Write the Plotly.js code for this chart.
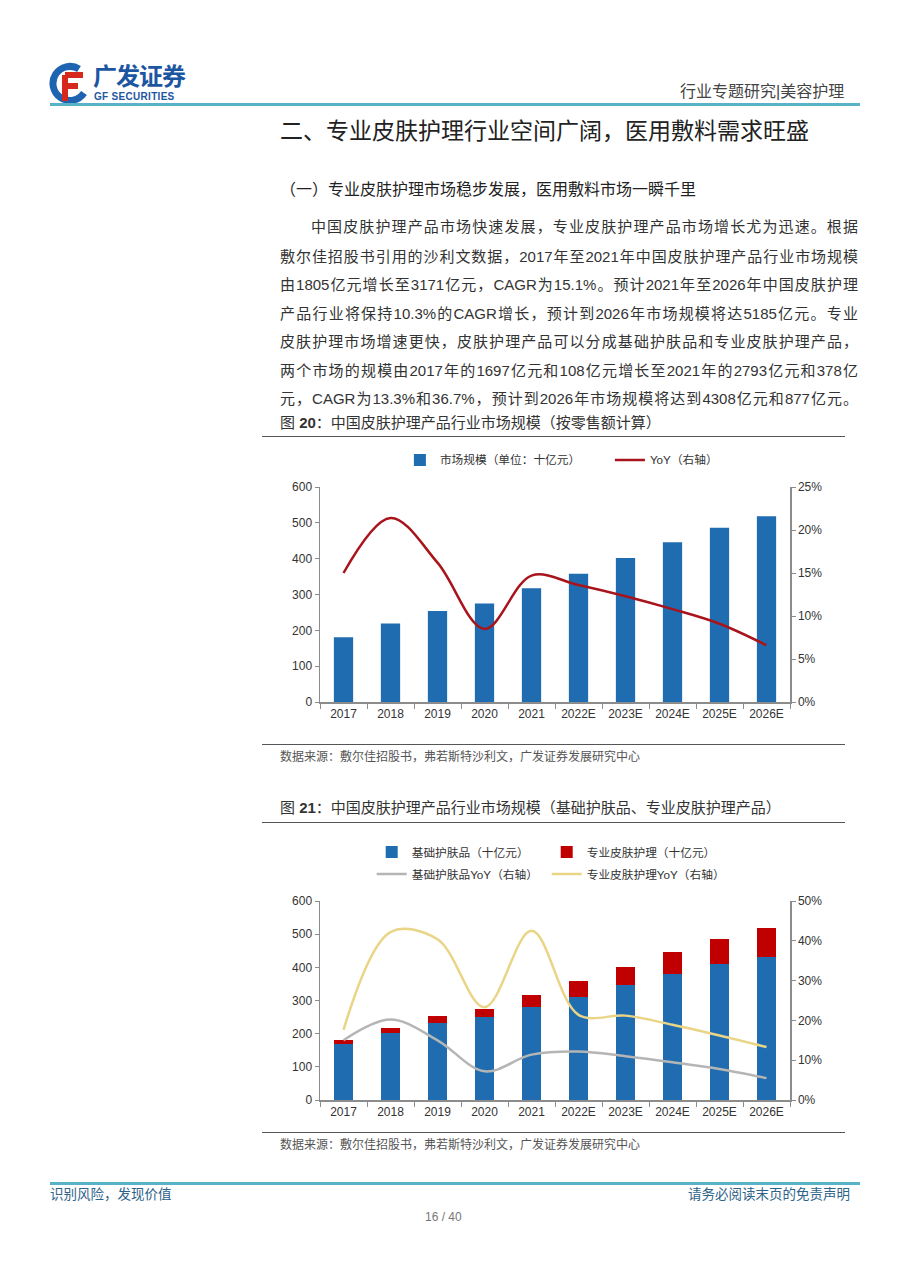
<!DOCTYPE html>
<html>
<head>
<meta charset="utf-8">
<script src="https://cdn.plot.ly/plotly-3.0.1.min.js"></script>
<style>
body{margin:0;background:#fff;width:905px;height:1280px;position:relative;overflow:hidden;
  font-family:"Liberation Sans","Noto Sans CJK SC",sans-serif;color:#333}
.t{position:absolute;white-space:nowrap}
.rule{position:absolute;height:0}
.line{position:absolute;left:280px;width:578px;font-size:15px;line-height:20px;
  text-align:justify;text-align-last:justify;white-space:nowrap;color:#333}
</style>
</head>
<body>

<!-- header -->
<svg class="t" style="left:48px;top:62px" width="44" height="42" viewBox="0 0 44 42">
  <path d="M31 7 A17 17 0 1 0 36 31" fill="none" stroke="#1f64b0" stroke-width="7"/>
  <path d="M17 13 H35 M17 13 V39 M17 24 H30" stroke="#d7281d" stroke-width="6" fill="none"/>
</svg>
<div class="t" style="left:93px;top:63px;font-size:24px;line-height:28px;font-weight:bold;color:#1d56a0;letter-spacing:-1px">广发证券</div>
<div class="t" style="left:94px;top:91px;font-size:10px;line-height:12px;font-weight:bold;color:#1d56a0;letter-spacing:0.3px">GF SECURITIES</div>
<div class="t" style="left:680px;top:81px;font-size:16px;line-height:22px;color:#444">行业专题研究|美容护理</div>
<div class="rule" style="left:50px;top:103px;width:810px;border-top:3px solid #5ab2c8"></div>

<!-- headings and text -->
<div class="t" style="left:280px;top:116px;font-size:23px;line-height:30px;color:#222">二、专业皮肤护理行业空间广阔，医用敷料需求旺盛</div>
<div class="t" style="left:280px;top:179px;font-size:16px;line-height:22px;color:#222">（一）专业皮肤护理市场稳步发展，医用敷料市场一瞬千里</div>

<div class="line" style="top:217px;left:311px;width:547px">中国皮肤护理产品市场快速发展，专业皮肤护理产品市场增长尤为迅速。根据</div>
<div class="line" style="top:247px">敷尔佳招股书引用的沙利文数据，2017年至2021年中国皮肤护理产品行业市场规模</div>
<div class="line" style="top:275px">由1805亿元增长至3171亿元，CAGR为15.1%。预计2021年至2026年中国皮肤护理</div>
<div class="line" style="top:304px">产品行业将保持10.3%的CAGR增长，预计到2026年市场规模将达5185亿元。专业</div>
<div class="line" style="top:332px">皮肤护理市场增速更快，皮肤护理产品可以分成基础护肤品和专业皮肤护理产品，</div>
<div class="line" style="top:361px">两个市场的规模由2017年的1697亿元和108亿元增长至2021年的2793亿元和378亿</div>
<div class="line" style="top:389px">元，CAGR为13.3%和36.7%，预计到2026年市场规模将达到4308亿元和877亿元。</div>

<!-- figure 20 -->
<div class="t" style="left:280px;top:413px;font-size:15px;line-height:20px;color:#333">图 <b>20</b>：中国皮肤护理产品行业市场规模（按零售额计算）</div>
<div class="rule" style="left:262px;top:436px;width:583px;border-top:1px solid #555"></div>
<div id="chart1" style="position:absolute;left:262px;top:440px;width:583px;height:300px"></div>
<div class="rule" style="left:262px;top:744px;width:583px;border-top:1.5px solid #555"></div>
<div class="t" style="left:280px;top:749px;font-size:12px;line-height:16px;color:#555">数据来源：敷尔佳招股书，弗若斯特沙利文，广发证券发展研究中心</div>

<!-- figure 21 -->
<div class="t" style="left:280px;top:798px;font-size:15px;line-height:20px;color:#333">图 <b>21</b>：中国皮肤护理产品行业市场规模（基础护肤品、专业皮肤护理产品）</div>
<div class="rule" style="left:262px;top:822px;width:583px;border-top:1px solid #555"></div>
<div id="chart2" style="position:absolute;left:262px;top:830px;width:583px;height:310px"></div>
<div class="rule" style="left:262px;top:1132px;width:583px;border-top:1.5px solid #555"></div>
<div class="t" style="left:280px;top:1137px;font-size:12px;line-height:16px;color:#555">数据来源：敷尔佳招股书，弗若斯特沙利文，广发证券发展研究中心</div>

<!-- footer -->
<div class="rule" style="left:50px;top:1182px;width:810px;border-top:3px solid #5ab2c8"></div>
<div class="t" style="left:50px;top:1186px;font-size:13.5px;line-height:18px;color:#2d6389">识别风险，发现价值</div>
<div class="t" style="left:688px;top:1186px;font-size:13.5px;line-height:18px;color:#2d6389">请务必阅读末页的免责声明</div>
<div class="t" style="left:425px;top:1209px;font-size:12px;line-height:16px;color:#777">16 / 40</div>

<script>
// categories
var years = ["2017", "2018", "2019", "2020", "2021", "2022E", "2023E", "2024E", "2025E", "2026E"];
// fig 20: market size (十亿元) and yoy
var marketSize = [180.5, 219, 254, 275, 317.1, 358, 402, 446, 486, 518.5];
var marketYoY = [0.150, 0.214, 0.162, 0.085, 0.147, 0.136, 0.123, 0.108, 0.091, 0.066];
// fig 21: basic skincare vs professional skincare
var basicSize = [169.7, 202.5, 232.5, 250, 279.3, 312, 347, 379.5, 409, 430.8];
var proSize = [10.8, 16, 22, 25, 37.8, 46, 55, 66.5, 77, 87.7];
var basicYoY = [0.150, 0.202, 0.150, 0.072, 0.114, 0.122, 0.110, 0.095, 0.078, 0.055];
var proYoY = [0.176, 0.422, 0.404, 0.233, 0.425, 0.214, 0.212, 0.189, 0.162, 0.133];

var tickFont = {family: "Liberation Sans, Arial", size: 12, color: "#333"};
var legendFont = {family: "Liberation Sans, Noto Sans CJK SC", size: 11.7, color: "#333"};
var axisColor = "#8c8c8c";

var xAxis = {type: "category", showline: true, linecolor: axisColor, linewidth: 1.5,
  ticks: "outside", tickson: "boundaries", ticklen: 5, tickcolor: axisColor,
  tickfont: tickFont, showgrid: false, zeroline: false};
var yLeft = {range: [0, 600], dtick: 100, showline: true, linecolor: axisColor, linewidth: 1.5,
  ticks: "outside", ticklen: 4, tickcolor: axisColor, tickfont: tickFont,
  showgrid: false, zeroline: false};

// chart 1
var bar1 = {x: years, y: marketSize, type: "bar", name: "市场规模（单位：十亿元）",
  marker: {color: "#1f6db0"}};
var line1 = {x: years, y: marketYoY, type: "scatter", mode: "lines", yaxis: "y2",
  name: "YoY（右轴）", line: {color: "#a8141c", width: 2.5, shape: "spline", smoothing: 1}};

var layout1 = {
  width: 583, height: 300,
  margin: {l: 58, r: 55, t: 47, b: 38, autoexpand: false},
  paper_bgcolor: "rgba(0,0,0,0)", plot_bgcolor: "rgba(0,0,0,0)",
  bargap: 0.59,
  showlegend: true,
  legend: {orientation: "h", x: 0.17, xanchor: "left", y: 1.126, yanchor: "middle",
    font: legendFont, itemwidth: 30, entrywidth: 165, traceorder: "normal"},
  xaxis: xAxis,
  yaxis: yLeft,
  yaxis2: {overlaying: "y", side: "right", range: [0, 0.25], dtick: 0.05, tickformat: ".0%",
    showline: true, linecolor: axisColor, linewidth: 1.5, ticks: "outside", ticklen: 4,
    tickcolor: axisColor, tickfont: tickFont, showgrid: false, zeroline: false}
};
Plotly.newPlot("chart1", [bar1, line1], layout1, {staticPlot: true});

// chart 2
var bar2a = {x: years, y: basicSize, type: "bar", name: "基础护肤品（十亿元）",
  marker: {color: "#1f6db0"}, legend: "legend"};
var bar2b = {x: years, y: proSize, type: "bar", name: "专业皮肤护理（十亿元）",
  marker: {color: "#c00000"}, legend: "legend"};
var line2a = {x: years, y: basicYoY, type: "scatter", mode: "lines", yaxis: "y2",
  name: "基础护肤品YoY（右轴）", legend: "legend2",
  line: {color: "#b5b5b5", width: 2.5, shape: "spline", smoothing: 1}};
var line2b = {x: years, y: proYoY, type: "scatter", mode: "lines", yaxis: "y2",
  name: "专业皮肤护理YoY（右轴）", legend: "legend2",
  line: {color: "#ead485", width: 2.5, shape: "spline", smoothing: 1}};

var layout2 = {
  width: 583, height: 310,
  margin: {l: 58, r: 55, t: 71, b: 40, autoexpand: false},
  paper_bgcolor: "rgba(0,0,0,0)", plot_bgcolor: "rgba(0,0,0,0)",
  barmode: "stack",
  bargap: 0.59,
  showlegend: true,
  legend: {orientation: "h", x: 0.11, xanchor: "left", y: 1.246, yanchor: "middle",
    font: legendFont, itemwidth: 30, entrywidth: 130, traceorder: "normal"},
  legend2: {orientation: "h", x: 0.11, xanchor: "left", y: 1.136, yanchor: "middle",
    font: legendFont, itemwidth: 30, entrywidth: 130, traceorder: "normal"},
  xaxis: xAxis,
  yaxis: yLeft,
  yaxis2: {overlaying: "y", side: "right", range: [0, 0.5], dtick: 0.1, tickformat: ".0%",
    showline: true, linecolor: axisColor, linewidth: 1.5, ticks: "outside", ticklen: 4,
    tickcolor: axisColor, tickfont: tickFont, showgrid: false, zeroline: false}
};
Plotly.newPlot("chart2", [bar2a, bar2b, line2a, line2b], layout2, {staticPlot: true});
</script>
</body>
</html>
